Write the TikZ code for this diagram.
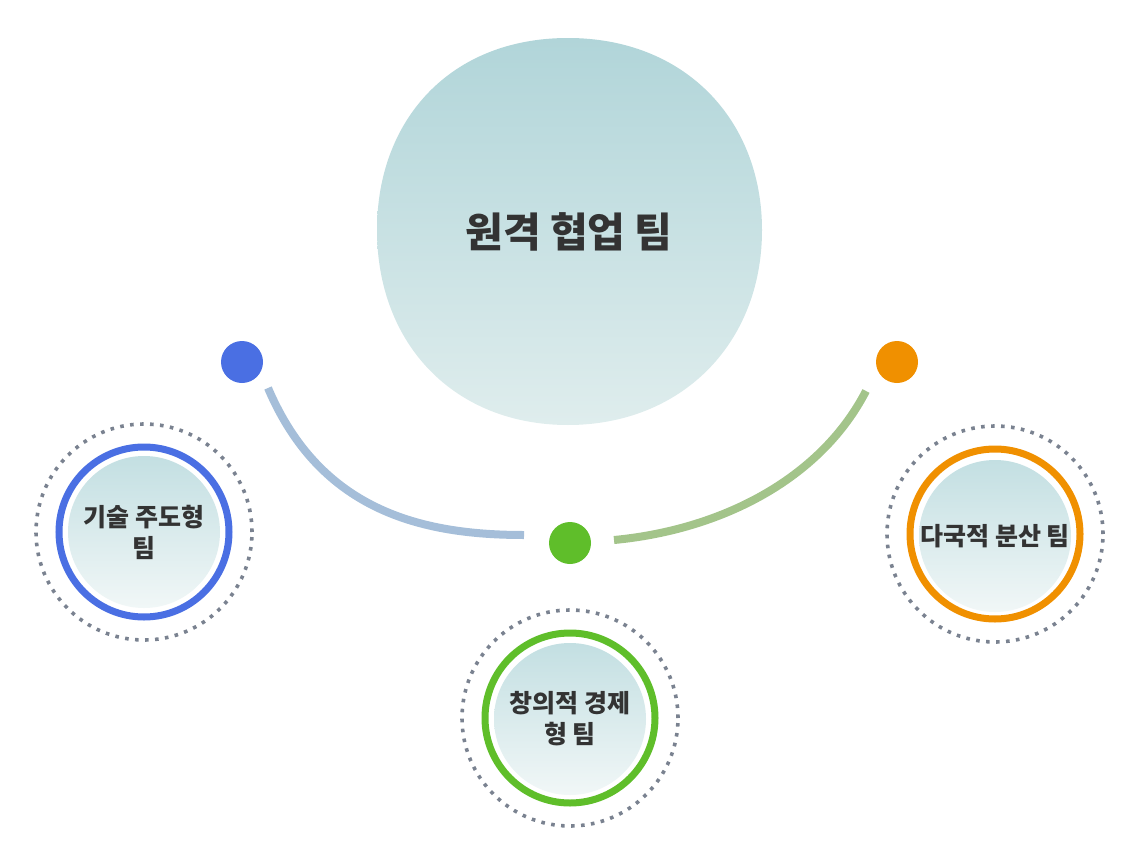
\documentclass[tikz,border=0pt]{standalone}
\usepackage{fontspec}
\setmainfont{Noto Sans CJK KR}
\usetikzlibrary{shapes.geometric}
\definecolor{txt}{HTML}{333333}
\definecolor{cblue}{HTML}{4A6FE3}
\definecolor{cgreen}{HTML}{5FBE2A}
\definecolor{corange}{HTML}{F09000}
\definecolor{arcblue}{HTML}{A5BED9}
\definecolor{arcgreen}{HTML}{A3C48A}
\definecolor{dotgray}{HTML}{7A8290}
\definecolor{blobtop}{HTML}{B1D5D9}
\definecolor{blobbot}{HTML}{DFEDED}
\definecolor{intop}{HTML}{C3DFE2}
\definecolor{inbot}{HTML}{F1F7F7}
\tikzset{
  dotnode/.style={circle, minimum size=42pt, inner sep=0pt, fill=#1},
  dottedring/.style={circle, minimum size=216pt, inner sep=0pt, draw=dotgray, line width=3.6pt, dash pattern=on 3.6pt off 6.4pt},
  colorring/.style={circle, minimum size=170pt, inner sep=0pt, draw=#1, line width=7pt, fill=white},
  inner/.style={circle, minimum size=152pt, inner sep=0pt, top color=intop, bottom color=inbot},
  label/.style={text=txt, font=\bfseries\fontsize{25}{31}\selectfont, align=center},
  arcline/.style={line width=8pt, draw=#1}
}
\begin{document}
\begin{tikzpicture}[x=1pt,y=-1pt]
\useasboundingbox (0,0) rectangle (1138,862);
% central blob
\path[top color=blobtop, bottom color=blobbot]
  (568,38) .. controls (685,38) and (762,120) .. (762,230)
  .. controls (762,345) and (680,425) .. (568,425)
  .. controls (455,425) and (377,345) .. (377,230)
  .. controls (377,120) and (450,38) .. (568,38) -- cycle;
\node[text=txt, font=\bfseries\fontsize{41}{46}\selectfont] (center) at (569,232) {원격 협업 팀};
% small dots
\node[dotnode=cblue] (dblue) at (242,362) {};
\node[dotnode=corange] (dorange) at (897,362) {};
\node[dotnode=cgreen] (dgreen) at (570,543) {};
% arcs
\coordinate (la) at (268,388);
\coordinate (lb) at (524,535);
\coordinate (ra) at (614,540);
\coordinate (rb) at (866,391);
\draw[arcline=arcblue] (la) .. controls (320,510) and (420,535) .. (lb);
\draw[arcline=arcgreen] (ra) .. controls (720,530) and (820,480) .. (rb);
% left circle
\node[dottedring] (lring) at (144,532) {};
\node[colorring=cblue] (lcol) at (144,532) {};
\node[inner, label] (left) at (144,532) {기술 주도형\\팀};
% bottom circle
\node[dottedring] (bring) at (570,718) {};
\node[colorring=cgreen] (bcol) at (570,718) {};
\node[inner, label] (bottom) at (570,719) {창의적 경제\\형 팀};
% right circle
\node[dottedring] (rring) at (995,534) {};
\node[colorring=corange] (rcol) at (995,534) {};
\node[inner, label] (right) at (995,536) {다국적 분산 팀};
\end{tikzpicture}
\end{document}
